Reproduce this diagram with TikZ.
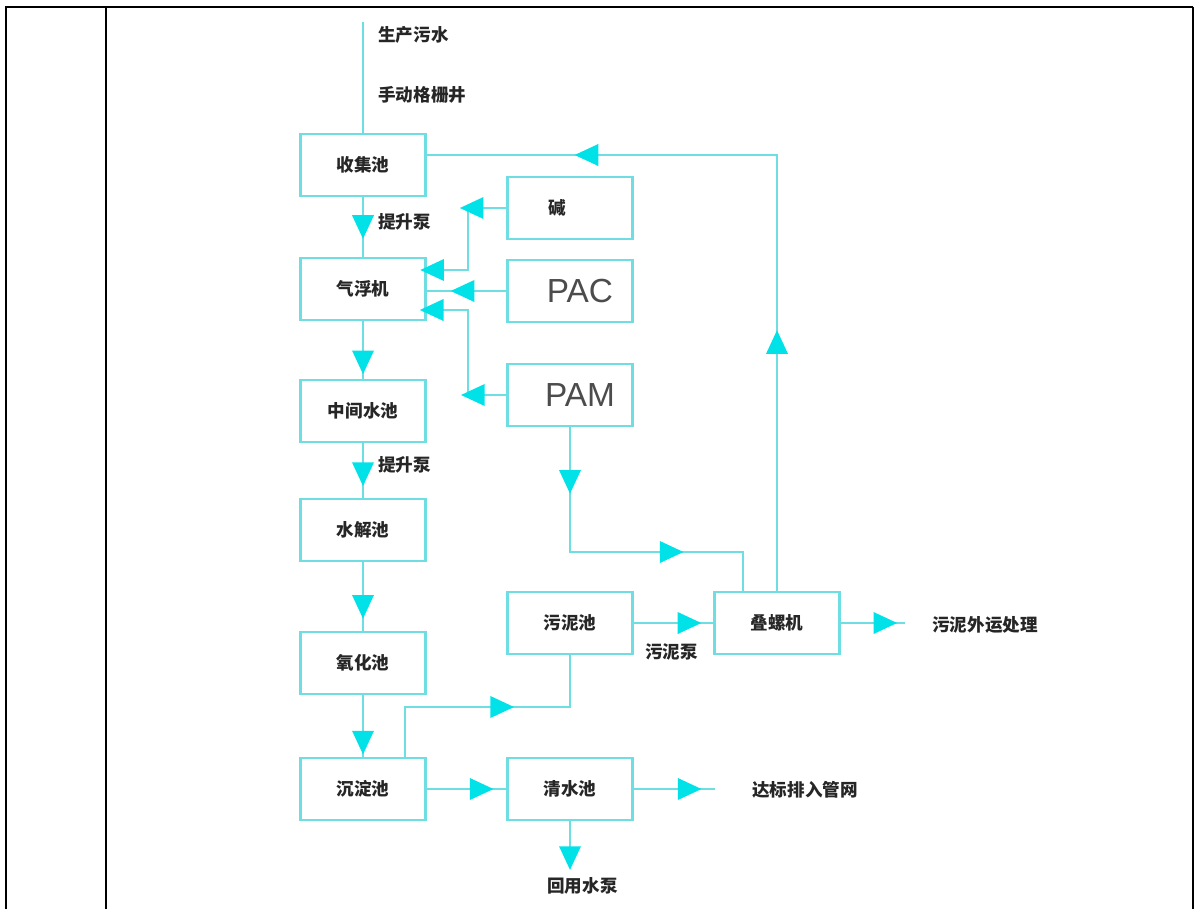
\documentclass[tikz,border=0pt]{standalone}
\usepackage{fontspec}
\newfontfamily\cjk{Noto Sans CJK SC}
\setsansfont{Liberation Sans}
\usetikzlibrary{shapes.geometric}
\definecolor{pipe}{RGB}{110,222,226}
\definecolor{tip}{RGB}{0,226,232}

\begin{document}
\begin{tikzpicture}[x=0.02cm, y=-0.02cm,
        tank/.style={rectangle, draw=pipe, line width=1.2pt, minimum width=2.5cm, minimum height=1.24cm, font=\cjk\bfseries\fontsize{10}{12}\selectfont, text=black!85},
        dose/.style={font=\sffamily\fontsize{19}{22}\selectfont, text=black!70},
        flow/.style={draw=pipe, line width=0.9pt},
        tri/.style={isosceles triangle, isosceles triangle apex angle=50, fill=tip, draw=none, inner sep=0pt, minimum size=0.44cm, sloped, allow upside down},
        lbl/.style={font=\cjk\bfseries\fontsize{10}{12}\selectfont, anchor=west, inner sep=0pt, text=black!85}
    ]
    \useasboundingbox (0,0) rectangle (1195,909);

    % table frame
    \draw[line width=1.7pt] (6,909) -- (6,7) -- (1193,7);
    \draw[line width=1.1pt] (1193,7) -- (1193,909);
    \draw[line width=1.1pt] (106,7) -- (106,909);

    % main line
    \node[tank] (collect) at (363,165) {收集池};
    \node[tank] (float) at (363,289) {气浮机};
    \node[tank] (mid) at (363,411) {中间水池};
    \node[tank] (hydro) at (363,530) {水解池};
    \node[tank] (oxid) at (363,663) {氧化池};
    \node[tank] (settle) at (363,789) {沉淀池};
    \node[tank] (clear) at (570,789) {清水池};
    \node[tank] (sludge) at (570,623) {污泥池};
    \node[tank] (screw) at (777,623) {叠螺机};

    % dosing
    \node[tank] (alkali) at (570,208) {碱\hspace*{.5cm}};
    \node[tank, dose] (pac) at (570,291) {\hspace*{.4cm}PAC};
    \node[tank, dose] (pam) at (570,395) {\hspace*{.4cm}PAM};

    % labels
    \node[lbl] (raw) at (378,35) {生产污水};
    \node[lbl] (screen) at (378,95) {手动格栅井};
    \node[lbl] (lift1) at (378,222) {提升泵};
    \node[lbl] (lift2) at (378,465) {提升泵};
    \node[lbl] (spump) at (645,652) {污泥泵};
    \node[lbl] (out) at (932,625) {污泥外运处理};
    \node[lbl] (dis) at (752,790) {达标排入管网};
    \node[lbl] (reuse) at (547,886) {回用水泵};

    \coordinate (top) at (363,22);
    \coordinate (dis end) at (715,789);
    \coordinate (reuse end) at (570,864);
    \coordinate (out end) at (905,623);

    \draw[flow] (top) -- (collect.north);
    \draw[flow] (collect.south) -- node[tri, pos=.42] {} (float.north);
    \draw[flow] (float.south) -- node[tri, pos=.63] {} (mid.north);
    \draw[flow] (mid.south) -- node[tri, pos=.48] {} (hydro.north);
    \draw[flow] (hydro.south) -- node[tri, pos=.58] {} (oxid.north);
    \draw[flow] (oxid.south) -- node[tri, pos=.69] {} (settle.north);
    \draw[flow] (settle.east) -- node[tri, pos=.63] {} (clear.west);
    \draw[flow] (clear.east) -- node[tri, pos=.63] {} (dis end);
    \draw[flow] (clear.south) -- node[tri, pos=.75] {} (reuse end);
    \draw[flow] ([xshift=.84cm]settle.north) -- (405,707) -- node[tri, pos=.56] {} (570,707) -- (sludge.south);
    \draw[flow] (sludge.east) -- node[tri, pos=.64] {} (screw.west);
    \draw[flow] (screw.east) -- node[tri, pos=.62] {} (out end);
    \draw[flow] (screw.north) -- node[tri, pos=.56] {} (777,155) -- node[tri, pos=.53] {} ([yshift=.2cm]collect.east);
    \draw[flow] (pam.south) -- node[tri, pos=.4] {} (570,552) -- node[tri, pos=.56] {} (743,552) -- ([xshift=-.68cm]screw.north);

    % chemicals into the flotation unit
    \draw[flow] (alkali.west) -- node[tri, pos=.78] {} (468,208) -- (468,270) -- node[tri, pos=.75] {} ([yshift=.38cm]float.east);
    \draw[flow] (pac.west) -- node[tri, pos=.49] {} ([yshift=-.04cm]float.east);
    \draw[flow] (pam.west) -- node[tri, pos=.75] {} (468,395) -- (468,310) -- node[tri, pos=.76] {} ([yshift=-.42cm]float.east);
\end{tikzpicture}
\end{document}
